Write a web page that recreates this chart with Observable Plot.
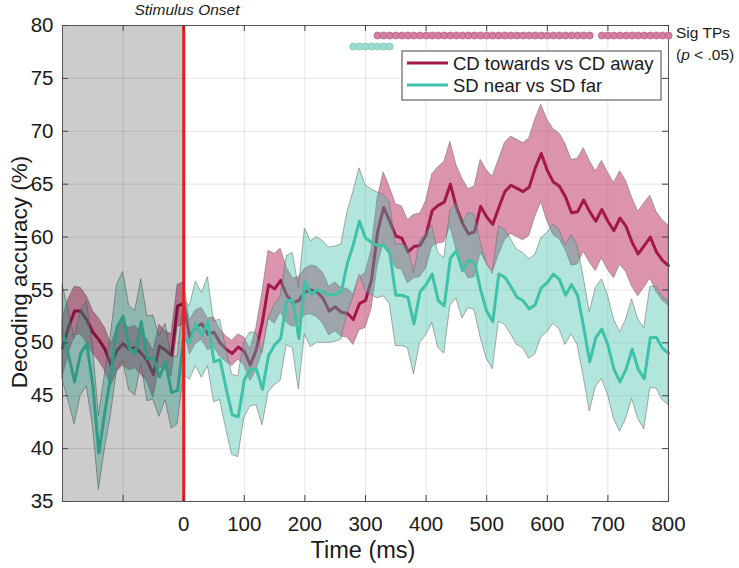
<!DOCTYPE html>
<html><head><meta charset="utf-8">
<script src="https://cdn.jsdelivr.net/npm/d3@7"></script>
<script src="https://cdn.jsdelivr.net/npm/@observablehq/plot@0.6"></script>
<style>body{margin:0;background:#fff;} svg{display:block;}</style>
</head><body><div id="chart"></div>
<script>
// ---- data ----
const time = [-200,-190,-180,-170,-160,-150,-140,-130,-120,-110,
  -100,-90,-80,-70,-60,-50,-40,-30,-20,-10,
  0,10,20,30,40,50,60,70,80,90,
  100,110,120,130,140,150,160,170,180,190,
  200,210,220,230,240,250,260,270,280,290,
  300,310,320,330,340,350,360,370,380,390,
  400,410,420,430,440,450,460,470,480,490,
  500,510,520,530,540,550,560,570,580,590,
  600,610,620,630,640,650,660,670,680,690,
  700,710,720,730,740,750,760,770,780,790,800];

const cdMean = [49.5,51.5,53.0,53.0,52.2,51.0,50.3,49.4,47.9,49.3,
  49.9,49.4,49.6,49.0,48.3,47.0,49.7,49.3,48.8,53.5,
  53.7,50.5,51.5,51.8,50.8,51.0,50.0,49.4,49.0,49.6,
  49.2,47.9,49.4,52.0,55.5,55.1,55.9,54.5,53.8,54.0,
  54.8,55.0,54.8,54.2,53.0,53.4,52.9,52.8,52.2,53.7,
  54.0,56.0,60.5,62.8,61.5,60.1,59.9,58.6,59.1,59.2,
  60.2,62.5,63.0,63.3,65.0,62.8,61.3,60.3,60.5,62.9,
  61.9,61.2,62.8,64.3,64.9,64.6,64.3,64.7,66.5,67.9,
  66.3,65.2,64.8,63.8,62.3,62.4,63.5,62.4,61.5,62.6,
  61.5,60.6,61.8,61.0,59.5,58.4,59.2,60.0,58.6,57.8,57.3];

const cdSem = [2.8,2.6,2.3,2.2,2.2,2.0,2.0,2.0,2.0,2.0,
  2.0,2.0,2.0,2.0,2.0,2.2,2.0,1.8,2.0,2.0,
  2.0,1.6,1.6,1.5,1.5,1.4,1.3,1.2,1.2,1.2,
  1.3,1.5,2.0,2.8,3.2,3.3,3.0,2.6,2.3,2.2,
  2.2,2.3,2.4,2.4,2.3,2.3,2.3,2.3,2.4,2.5,
  2.6,2.8,3.2,3.3,3.2,3.0,3.0,3.0,3.0,3.0,
  3.2,3.4,3.6,3.8,4.0,4.0,4.2,4.2,4.3,4.4,
  4.4,4.5,4.5,4.6,4.6,4.6,4.6,4.6,4.6,4.6,
  4.8,5.0,5.0,5.0,5.0,5.0,4.9,4.8,4.7,4.6,
  4.6,4.5,4.4,4.3,4.2,4.0,4.0,3.9,3.8,3.8,3.8];

const sdMean = [51.0,48.8,46.3,49.0,49.9,46.0,39.6,43.5,47.0,51.5,
  52.5,49.5,49.0,52.0,48.5,48.6,46.8,48.2,45.3,45.5,
  50.5,50.0,51.8,50.7,52.0,48.2,48.4,45.7,43.2,43.0,
  46.5,47.5,47.5,45.6,48.8,49.8,50.4,54.0,54.0,50.4,
  55.8,54.6,55.0,54.8,54.5,54.6,54.8,57.5,59.3,61.5,
  59.9,59.5,59.2,59.2,58.5,54.5,54.5,54.3,51.8,54.8,
  55.5,56.5,54.0,53.5,58.0,58.7,56.8,57.8,57.6,55.0,
  53.0,52.0,56.5,56.2,55.3,54.3,54.0,53.2,53.6,55.2,
  55.7,56.5,56.0,54.5,55.5,54.5,51.5,48.2,50.5,51.3,
  49.8,47.5,46.3,47.5,49.4,47.5,46.6,50.5,50.5,49.5,49.0];

const sdSem = [4.5,4.3,4.0,4.0,4.0,3.8,3.5,3.5,3.8,4.0,
  4.2,4.0,4.0,4.0,4.0,4.0,3.8,3.6,3.4,3.2,
  3.5,3.5,4.0,4.0,4.2,3.8,3.8,3.8,3.8,3.8,
  3.6,3.5,3.4,3.4,3.5,3.8,4.0,4.2,4.5,4.8,
  5.0,5.0,5.0,4.8,4.5,4.5,4.5,4.8,5.0,5.0,
  5.0,5.0,5.0,4.8,4.8,4.8,4.8,4.8,4.8,4.8,
  4.8,4.6,4.5,4.5,4.5,4.5,4.5,4.5,4.5,4.5,
  4.5,4.5,4.5,4.5,4.5,4.5,4.5,4.7,4.7,4.7,
  4.7,4.7,4.7,4.7,4.7,4.7,4.7,4.7,4.7,4.7,
  4.7,4.7,4.7,4.7,4.7,4.7,4.8,4.8,4.8,4.9,4.9];

// significant time points (p < .05)
const sigCD = [320,330,340,350,360,370,380,390,400,410,420,430,440,450,460,470,480,490,
  500,510,520,530,540,550,560,570,580,590,600,610,620,630,640,650,660,670,
  690,700,710,720,730,740,750,760,770,780,790,800];
const sigSD = [280,290,300,310,320,330,340];

const xTickVals = [-100,0,100,200,300,400,500,600,700,800];
const xLabelVals = [0,100,200,300,400,500,600,700,800];
const yTickVals = [35,40,45,50,55,60,65,70,75,80];
const xDomain = [-200, 800];
const yDomain = [35, 80];
const baselineWin = [{x1: -200, x2: 0}];
const onset = [0];
const seriesNames = ["CD towards vs CD away", "SD near vs SD far"];

// ---- styling ----
const FONT = "'Liberation Sans', Arial, Helvetica, sans-serif";
const CD_LINE = "#a3174b", CD_FILL = "#c03a6c";
const SD_LINE = "#3fc2a8", SD_FILL = "#3fbfa5";
const W = 739, H = 568, mL = 62, mR = 71, mT = 25, mB = 67;
const innerW = W - mL - mR, innerH = H - mT - mB;

const rows = time.map((t, i) => ({
  t,
  cd: cdMean[i], cdLo: cdMean[i] - cdSem[i], cdHi: cdMean[i] + cdSem[i],
  sd: sdMean[i], sdLo: sdMean[i] - sdSem[i], sdHi: sdMean[i] + sdSem[i]
}));

const chart = Plot.plot({
  width: W, height: H,
  marginLeft: mL, marginRight: mR, marginTop: mT, marginBottom: mB,
  style: {fontFamily: FONT, fontSize: "20px", color: "#1a1a1a", background: "white"},
  x: {domain: xDomain},
  y: {domain: yDomain},
  marks: [
    Plot.gridX(xTickVals, {stroke: "#000", strokeOpacity: 0.1}),
    Plot.gridY(yTickVals, {stroke: "#000", strokeOpacity: 0.1}),
    Plot.areaY(rows, {x: "t", y1: "cdLo", y2: "cdHi", fill: CD_FILL, fillOpacity: 0.55,
      stroke: "#6b6b6b", strokeWidth: 0.7, strokeOpacity: 0.8}),
    Plot.lineY(rows, {x: "t", y: "cd", stroke: CD_LINE, strokeWidth: 3}),
    Plot.areaY(rows, {x: "t", y1: "sdLo", y2: "sdHi", fill: SD_FILL, fillOpacity: 0.4,
      stroke: "#6b6b6b", strokeWidth: 0.7, strokeOpacity: 0.8}),
    Plot.lineY(rows, {x: "t", y: "sd", stroke: SD_LINE, strokeWidth: 3}),
    Plot.rect(baselineWin, {x1: "x1", x2: "x2", fill: "#000", fillOpacity: 0.2}),
    Plot.ruleX(onset, {stroke: "#ee1c1c", strokeWidth: 3}),
    Plot.frame({stroke: "#555", strokeWidth: 1}),
    Plot.tickX(xTickVals, {x: d => d, insetTop: innerH - 6, stroke: "#444"}),
    Plot.tickX(xTickVals, {x: d => d, insetBottom: innerH - 6, stroke: "#444"}),
    Plot.tickY(yTickVals, {y: d => d, insetRight: innerW - 6, stroke: "#444"}),
    Plot.tickY(yTickVals, {y: d => d, insetLeft: innerW - 6, stroke: "#444"}),
    Plot.axisX(xLabelVals, {tickSize: 0, tickPadding: 15, fontSize: 20.5, label: null}),
    Plot.axisY(yTickVals, {tickSize: 0, tickPadding: 9, fontSize: 20.5, label: null}),
    Plot.dot(sigCD, {x: d => d, frameAnchor: "top", dy: 10, r: 3.5,
      fill: "#d57fa0", stroke: "#b85e83", strokeWidth: 0.8}),
    Plot.dot(sigSD, {x: d => d, frameAnchor: "top", dy: 21, r: 3.5,
      fill: "#9fdccf", stroke: "#74c7b5", strokeWidth: 0.8})
  ]
});

document.getElementById("chart").appendChild(chart);

// ---- annotations, titles, legend ----
const svg = d3.select(chart);
const txt = (x, y, s, size, opts = {}) => {
  const t = svg.append("text").attr("x", x).attr("y", y)
    .attr("font-family", FONT).attr("font-size", size).attr("fill", "#1a1a1a")
    .attr("text-anchor", opts.anchor || "start");
  if (opts.italic) t.attr("font-style", "italic");
  if (opts.rotate) t.attr("transform", `rotate(-90 ${x} ${y})`);
  t.text(s);
  return t;
};
txt(187, 15, "Stimulus Onset", 15.5, {anchor: "middle", italic: true});
txt(363, 558, "Time (ms)", 23.5, {anchor: "middle"});
txt(27, 272, "Decoding accuracy (%)", 22.5, {anchor: "middle", rotate: true});
txt(676, 38, "Sig TPs", 15.5);
const p = svg.append("text").attr("x", 676).attr("y", 60).attr("text-anchor", "start")
  .attr("font-family", FONT).attr("font-size", 15.5).attr("fill", "#1a1a1a");
p.append("tspan").text("(");
p.append("tspan").attr("font-style", "italic").text("p");
p.append("tspan").text(" < .05)");

const lg = svg.append("g");
lg.append("rect").attr("x", 402).attr("y", 51).attr("width", 259).attr("height", 49)
  .attr("fill", "white").attr("stroke", "#444").attr("stroke-width", 1);
[[CD_LINE, 63], [SD_LINE, 85]].forEach(([c, y], i) => {
  lg.append("line").attr("x1", 407).attr("x2", 448).attr("y1", y).attr("y2", y)
    .attr("stroke", c).attr("stroke-width", 3);
  lg.append("text").attr("x", 453).attr("y", y + 6.5).attr("text-anchor", "start")
    .attr("font-family", FONT).attr("font-size", 18.5).attr("fill", "#1a1a1a")
    .text(seriesNames[i]);
});
</script>
</body></html>
